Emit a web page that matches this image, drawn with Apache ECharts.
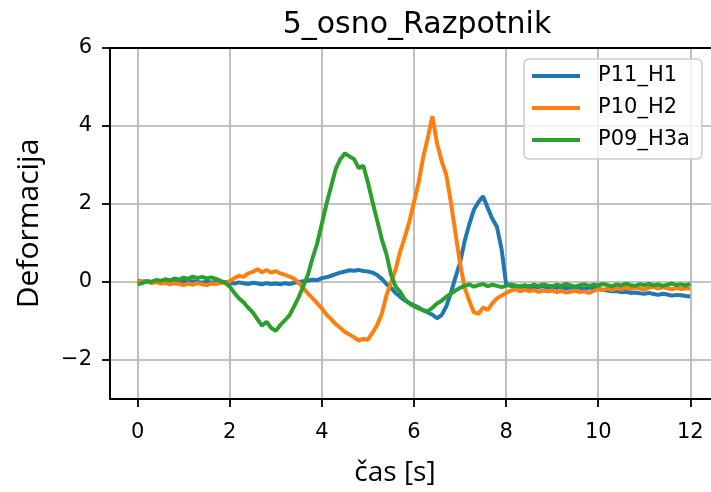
<!DOCTYPE html>
<html>
<head>
<meta charset="utf-8">
<script src="https://cdn.jsdelivr.net/npm/echarts@6/dist/echarts.min.js"></script>
<style>
html, body { margin: 0; padding: 0; background: #fff; }
#chart { width: 711px; height: 492px; }
</style>
</head>
<body>
<div id="chart"></div>
<script>
// sampling step of the recordings [s]
var dt = 0.1;

var seriesNames = ['P11_H1', 'P10_H2', 'P09_H3a'];
var xTicks = [0, 2, 4, 6, 8, 10, 12];
var yTicks = [-2, 0, 2, 4, 6];

// P11_H1
var p11 = [
	0.03, 0.01, 0.02, 0.00, 0.03, 0.01, -0.01, 0.02, 0.00, 0.02,
	0.01, -0.01, 0.02, 0.00, -0.02, 0.01, -0.01, 0.00, -0.02, 0.00,
	-0.02, -0.04, -0.01, -0.03, -0.05, -0.02, -0.04, -0.06, -0.03, -0.05,
	-0.04, -0.06, -0.03, -0.05, -0.02, 0.00, 0.02, 0.04, 0.06, 0.05,
	0.10, 0.12, 0.16, 0.20, 0.24, 0.27, 0.30, 0.29, 0.31, 0.28,
	0.27, 0.24, 0.18, 0.08, -0.05, -0.15, -0.28, -0.38, -0.47, -0.54,
	-0.60, -0.65, -0.73, -0.78, -0.84, -0.93, -0.85, -0.63, -0.28, 0.12,
	0.50, 1.05, 1.48, 1.85, 2.05, 2.20, 1.90, 1.62, 1.42, 0.85,
	-0.05, -0.10, -0.13, -0.11, -0.14, -0.12, -0.15, -0.13, -0.11, -0.14,
	-0.12, -0.15, -0.13, -0.16, -0.14, -0.12, -0.15, -0.17, -0.14, -0.16,
	-0.18, -0.20, -0.22, -0.24, -0.23, -0.26, -0.25, -0.28, -0.27, -0.29,
	-0.30, -0.28, -0.31, -0.33, -0.30, -0.32, -0.35, -0.33, -0.34, -0.36, -0.37
];
// P10_H2
var p10 = [
	0.02, -0.01, 0.01, -0.03, 0.00, -0.04, -0.02, -0.06, -0.03, -0.05,
	-0.08, -0.04, -0.07, -0.03, -0.06, -0.08, -0.04, -0.05, -0.02, -0.01,
	0.02, 0.10, 0.16, 0.13, 0.22, 0.26, 0.33, 0.25, 0.31, 0.24,
	0.28, 0.22, 0.18, 0.14, 0.08, -0.02, -0.16, -0.30, -0.42, -0.55,
	-0.68, -0.84, -0.95, -1.08, -1.18, -1.28, -1.35, -1.42, -1.50, -1.46,
	-1.48, -1.30, -1.10, -0.82, -0.35, -0.02, 0.32, 0.78, 1.15, 1.55,
	2.05, 2.55, 3.20, 3.70, 4.25, 3.55, 3.10, 2.75, 2.05, 1.25,
	0.49, -0.15, -0.48, -0.78, -0.82, -0.65, -0.72, -0.55, -0.42, -0.35,
	-0.28, -0.22, -0.18, -0.24, -0.20, -0.23, -0.21, -0.25, -0.22, -0.24,
	-0.22, -0.26, -0.23, -0.27, -0.25, -0.22, -0.26, -0.24, -0.28, -0.23,
	-0.18, -0.21, -0.17, -0.20, -0.16, -0.19, -0.15, -0.18, -0.14, -0.17,
	-0.19, -0.15, -0.12, -0.17, -0.13, -0.16, -0.19, -0.15, -0.18, -0.16, -0.17
];
// P09_H3a
var p09 = [
	-0.06, -0.03, 0.02, 0.00, 0.05, 0.03, 0.07, 0.04, 0.09, 0.06,
	0.11, 0.08, 0.14, 0.10, 0.13, 0.09, 0.12, 0.08, 0.03, -0.02,
	-0.12, -0.28, -0.42, -0.52, -0.66, -0.78, -0.95, -1.12, -1.02, -1.18,
	-1.25, -1.10, -0.98, -0.85, -0.62, -0.38, -0.10, 0.20, 0.62, 1.00,
	1.50, 2.00, 2.45, 2.90, 3.15, 3.30, 3.22, 3.15, 2.92, 2.98,
	2.55, 2.05, 1.58, 1.10, 0.72, 0.20, -0.12, -0.25, -0.45, -0.55,
	-0.62, -0.68, -0.72, -0.75, -0.66, -0.55, -0.48, -0.38, -0.30, -0.22,
	-0.15, -0.10, -0.06, -0.12, -0.08, -0.05, -0.11, -0.07, -0.10, -0.13,
	-0.10, -0.06, -0.09, -0.12, -0.08, -0.11, -0.07, -0.10, -0.06, -0.09,
	-0.11, -0.07, -0.10, -0.05, -0.09, -0.12, -0.08, -0.06, -0.10, -0.07,
	-0.09, -0.05, -0.08, -0.11, -0.06, -0.09, -0.04, -0.08, -0.10, -0.06,
	-0.08, -0.05, -0.09, -0.06, -0.10, -0.07, -0.04, -0.08, -0.06, -0.09, -0.05
];

var colors = ['#1f77b4', '#ff7f0e', '#2ca02c'];

function toPairs(arr) {
	var out = [];
	for (var i = 0; i < arr.length; i++) {
		out.push([Math.round(i * dt * 10) / 10, arr[i]]);
	}
	return out;
}

var chart = echarts.init(document.getElementById('chart'), null, { renderer: 'canvas' });

var font = 'DejaVu Sans';
var gridLine = { show: true, lineStyle: { color: '#b0b0b0', width: 1.6 } };
var blackLine = { show: true, onZero: false, lineStyle: { color: '#000', width: 1.8 } };

var option = {
	animation: false,
	backgroundColor: '#fff',
	title: {
		text: '5_osno_Razpotnik',
		left: 412,
		textAlign: 'center',
		top: 5,
		textStyle: { fontFamily: font, fontSize: 30, fontWeight: 'normal', color: '#000' }
	},
	legend: {
		data: seriesNames,
		orient: 'vertical',
		left: 524,
		top: 59,
		icon: 'rect',
		itemWidth: 48,
		itemHeight: 4,
		itemGap: 10,
		padding: [6, 12, 8, 8],
		backgroundColor: 'rgba(255,255,255,0.8)',
		borderColor: '#cccccc',
		borderWidth: 1.5,
		borderRadius: 5,
		textStyle: {
			fontFamily: font, fontSize: 21, color: '#000',
			lineHeight: 22, padding: [0, 0, 0, 13]
		}
	},
	grid: {
		left: 110,
		top: 48,
		width: 608,
		height: 351,
		show: true,
		borderColor: '#000',
		borderWidth: 1.8,
		outerBoundsMode: 'none'
	},
	xAxis: [{
		type: 'value',
		min: -0.6,
		max: 12.6,
		name: 'čas [s]',
		nameLocation: 'middle',
		nameGap: 60,
		nameTextStyle: { fontFamily: 'Open Sans', fontSize: 28, color: '#000', padding: [0, 38, 0, 0] },
		axisLine: blackLine,
		axisTick: { show: true, length: 8, lineStyle: { color: '#000', width: 1.8 }, customValues: xTicks },
		axisLabel: { customValues: xTicks, margin: 23, fontFamily: font, fontSize: 21, color: '#000' },
		splitLine: gridLine
	}, {
		// top spine
		type: 'value',
		position: 'top',
		min: -0.6,
		max: 12.6,
		axisLine: blackLine,
		axisTick: { show: false },
		axisLabel: { show: false },
		splitLine: { show: false }
	}],
	yAxis: {
		type: 'value',
		min: -3,
		max: 6,
		name: 'Deformacija',
		nameLocation: 'middle',
		nameGap: 66,
		nameTextStyle: { fontFamily: 'Open Sans', fontSize: 30, color: '#000' },
		axisLine: blackLine,
		axisTick: { show: true, length: 8, lineStyle: { color: '#000', width: 1.8 }, customValues: yTicks },
		axisLabel: {
			customValues: yTicks, margin: 18, fontFamily: font, fontSize: 21, color: '#000',
			formatter: function (v) { return String(v).replace('-', '\u2212'); }
		},
		splitLine: gridLine
	},
	series: [
		{ name: seriesNames[0], type: 'line', data: toPairs(p11) },
		{ name: seriesNames[1], type: 'line', data: toPairs(p10) },
		{ name: seriesNames[2], type: 'line', data: toPairs(p09) }
	].map(function (s, i) {
		s.showSymbol = false;
		s.symbol = 'none';
		s.color = colors[i];
		s.lineStyle = { color: colors[i], width: 4 };
		return s;
	})
};

chart.setOption(option);
</script>
</body>
</html>
